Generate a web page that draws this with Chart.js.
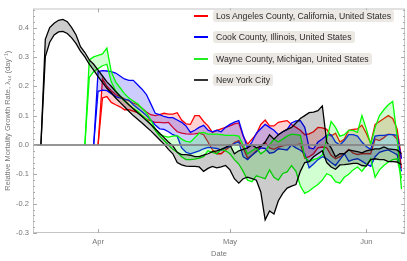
<!DOCTYPE html>
<html>
<head>
<meta charset="utf-8">
<script src="https://cdn.jsdelivr.net/npm/chart.js@4.4.0/dist/chart.umd.min.js"></script>
<style>
html, body { margin: 0; padding: 0; background: #fff; }
#wrap { position: relative; width: 407px; height: 261px; }
#legend { position: absolute; left: 194px; top: 10px; font-family: "Liberation Sans", Arial, sans-serif; font-size: 8.7px; color: #2a2a2a; }
.row { display: flex; align-items: center; height: 12px; margin-bottom: 9.3px; }
.sw { width: 14px; height: 2px; margin-right: 5px; }
.lab { background: #ece8e4; border-radius: 3px; padding: 0 3px; height: 12px; line-height: 12px; white-space: nowrap; }
</style>
</head>
<body>
<div id="wrap">
  <canvas id="growth" width="407" height="261"></canvas>
  <div id="legend"></div>
</div>
<script>
// days relative to April 1
const days = [-13, -12, -11, -10, -9, -8, -7, -6, -5, -4, -3, -2, -1,
  0, 1, 2, 3, 4, 5, 6, 7, 8, 9,
  10, 11, 12, 13, 14, 15, 16, 17, 18, 19,
  20, 21, 22, 23, 24, 25, 26, 27, 28, 29,
  30, 31, 32, 33, 34, 35, 36, 37, 38, 39,
  40, 41, 42, 43, 44, 45, 46, 47, 48, 49,
  50, 51, 52, 53, 54, 55, 56, 57, 58, 59,
  60, 61, 62, 63, 64, 65, 66, 67, 68, 69];

const tickDays = [0, 30, 61];
const tickLabels = ["Apr", "May", "Jun"];
const yTicks = [-0.3, -0.2, -0.1, 0, 0.1, 0.2, 0.3, 0.4];

const seriesNames = [
  "Los Angeles County, California, United States",
  "Cook County, Illinois, United States",
  "Wayne County, Michigan, United States",
  "New York City"
];

const laUpper = [null, null, null, null, null, null, null, null, null, null, null, null, null,
  0, 0.225, 0.2, 0.185, 0.172, 0.165, 0.157, 0.15, 0.143, 0.137,
  0.125, 0.112, 0.103, 0.1, 0.103, 0.108, 0.105, 0.105, 0.11, 0.085,
  0.072, 0.07, 0.1, 0.1, 0.08, 0.065, 0.043, 0.05, 0.055, 0.06,
  0.065, 0.072, 0.075, 0.03, 0.003, 0.02, 0.037, 0.07, 0.085, 0.065,
  0.065, 0.077, 0.08, 0.083, 0.07, 0.06, 0.05, 0.035, 0.038, 0.045,
  0.06, 0.058, 0.053, 0.03, 0.04, 0.01, 0.02, 0.05, 0.053, 0.055,
  0.067, 0.04, 0.005, 0.07, 0.08, 0.09, 0.1, 0.09, 0.055, -0.045];
const laLower = [null, null, null, null, null, null, null, null, null, null, null, null, null,
  0, 0.16, 0.165, 0.145, 0.137, 0.13, 0.12, 0.12, 0.115, 0.11,
  0.1, 0.088, 0.082, 0.077, 0.077, 0.075, 0.077, 0.06, 0.045, 0.04,
  0.038, 0.037, 0.038, 0.04, 0.035, 0.01, -0.017, -0.03, -0.03, -0.017,
  -0.005, 0.008, 0.015, -0.01, -0.045, -0.035, -0.02, -0.005, 0.008, -0.01,
  -0.015, -0.007, -0.003, 0, 0, 0, 0.003, -0.045, -0.04, -0.03,
  -0.01, -0.007, -0.01, -0.035, -0.047, -0.04, -0.03, -0.015, -0.028, -0.033,
  -0.03, -0.03, -0.03, 0.02, 0.015, 0.025, 0.037, 0.035, 0.02, -0.08];

const cookUpper = [null, null, null, null, null, null, null, null, null, null, null, null, 0,
  0.25, 0.253, 0.252, 0.25, 0.245, 0.235, 0.225, 0.22, 0.22, 0.205,
  0.19, 0.172, 0.14, 0.108, 0.103, 0.097, 0.093, 0.093, 0.085, 0.077,
  0.065, 0.043, 0.05, 0.06, 0.067, 0.05, 0.045, 0.05, 0.045, 0.06,
  0.07, 0.078, 0.083, 0.033, -0.01, 0.01, 0.04, 0.055, 0.07, 0.06,
  0.05, 0.035, 0.045, 0.053, 0.075, 0.082, 0.083, 0.06, -0.01, -0.013,
  0.01, 0.02, 0.033, 0.035, 0.01, 0, 0.015, 0.035, 0.035, 0.03,
  0.01, -0.005, -0.015, 0.03, 0.033, 0.033, 0.035, 0.035, 0.033, -0.047];
const cookLower = [null, null, null, null, null, null, null, null, null, null, null, null, 0,
  0.183, 0.187, 0.185, 0.175, 0.165, 0.16, 0.155, 0.153, 0.137, 0.125,
  0.113, 0.1, 0.085, 0.068, 0.055, 0.053, 0.045, 0.035, 0.03, -0.01,
  -0.025, -0.03, -0.025, -0.02, -0.013, -0.008, -0.01, -0.012, -0.017, -0.01,
  -0.005, 0.005, 0.01, -0.04, -0.05, -0.035, -0.023, -0.01, -0.012, -0.028,
  -0.025, -0.013, -0.015, -0.017, 0, -0.01, -0.018, -0.03, -0.078, -0.065,
  -0.05, -0.04, -0.047, -0.06, -0.07, -0.05, -0.03, -0.055, -0.05, -0.047,
  -0.055, -0.065, -0.073, -0.04, -0.025, -0.02, -0.017, -0.025, -0.033, -0.09];

const wayneUpper = [null, null, null, null, null, null, null, null, null, null, 0, 0.29, 0.3,
  0.305, 0.31, 0.33, 0.25, 0.215, 0.195, 0.175, 0.16, 0.15, 0.14,
  0.125, 0.11, 0.085, 0.055, 0.037, 0.03, 0.027, 0.03, 0.032, 0.02,
  0.012, 0.01, 0.025, 0.04, 0.043, 0.037, 0.037, 0.037, 0.035, 0.033,
  0.033, 0.033, 0.03, 0, -0.03, -0.02, -0.01, -0.03, -0.02, 0,
  0.02, 0.01, 0.02, 0.03, 0.037, 0.035, 0.033, -0.04, -0.057, -0.05,
  -0.045, -0.033, 0.02, 0.08, 0.06, 0.03, 0.035, 0.05, 0.05, 0.043,
  0.1, 0.055, 0.003, 0.06, 0.1, 0.12, 0.137, 0.148, 0.03, -0.15];
const wayneLower = [null, null, null, null, null, null, null, null, null, null, 0, 0.23, 0.25,
  0.26, 0.27, 0.275, 0.215, 0.185, 0.165, 0.15, 0.137, 0.125, 0.115,
  0.1, 0.088, 0.07, 0.05, 0.03, 0.015, 0, -0.015, -0.025, -0.04,
  -0.05, -0.05, -0.048, -0.045, -0.04, -0.02, -0.025, -0.03, -0.015, -0.02,
  -0.03, -0.05, -0.065, -0.09, -0.12, -0.125, -0.105, -0.11, -0.115, -0.085,
  -0.11, -0.12, -0.097, -0.092, -0.07, -0.09, -0.14, -0.165, -0.157, -0.145,
  -0.135, -0.12, -0.098, -0.105, -0.125, -0.13, -0.11, -0.1, -0.085, -0.075,
  -0.09, -0.07, -0.047, -0.11, -0.085, -0.07, -0.058, -0.05, -0.047, -0.113];

const nycUpper = [0, 0.36, 0.4, 0.415, 0.425, 0.428, 0.42, 0.4, 0.375, 0.335, 0.315, 0.29, 0.275,
  0.255, 0.235, 0.215, 0.2, 0.182, 0.167, 0.152, 0.137, 0.123, 0.11,
  0.097, 0.083, 0.07, 0.055, 0.04, 0.025, 0.01, -0.003, -0.025, -0.033,
  -0.033, -0.035, -0.04, -0.04, -0.035, -0.03, -0.023, -0.02, -0.015, -0.008,
  0, -0.03, -0.02, -0.015, -0.01, 0, -0.01, -0.005, 0.01, 0.035,
  0.02, 0.035, 0.045, 0.053, 0.06, 0.075, 0.09, 0.1, 0.11, 0.112,
  0.117, 0.133, 0.01, -0.01, -0.04, -0.03, -0.03, -0.017, -0.02, -0.023,
  -0.027, -0.02, -0.017, -0.013, -0.013, -0.007, -0.013, -0.015, -0.017, -0.03];
const nycLower = [0, 0.3, 0.35, 0.375, 0.385, 0.387, 0.38, 0.365, 0.345, 0.32, 0.3, 0.275, 0.255,
  0.233, 0.213, 0.193, 0.178, 0.16, 0.145, 0.13, 0.115, 0.1, 0.088,
  0.075, 0.061, 0.048, 0.033, 0.018, 0.003, -0.015, -0.03, -0.06, -0.068,
  -0.072, -0.073, -0.073, -0.075, -0.09, -0.08, -0.073, -0.078, -0.075, -0.07,
  -0.085, -0.115, -0.13, -0.115, -0.11, -0.115, -0.12, -0.16, -0.255, -0.225,
  -0.235, -0.19, -0.165, -0.147, -0.14, -0.135, -0.09, -0.06, -0.057, -0.04,
  -0.03, -0.02, -0.06, -0.075, -0.083, -0.068, -0.067, -0.065, -0.063, -0.063,
  -0.07, -0.072, -0.05, -0.047, -0.05, -0.05, -0.057, -0.057, -0.058, -0.067];

const lineColors = ["#ff0000", "#0000ff", "#00ff00", "#000000"];
const fillColors = ["rgba(255,0,0,0.18)", "rgba(0,0,255,0.2)", "rgba(0,255,0,0.18)", "rgba(0,0,0,0.2)"];
const swatchColors = ["#ff0000", "#0000ff", "#22ee22", "#333333"];

const bands = [[laUpper, laLower], [cookUpper, cookLower], [wayneUpper, wayneLower], [nycUpper, nycLower]];
const drawOrder = [3, 2, 1, 0];

const datasets = [];
bands.forEach(([up, lo], i) => {
  const common = {
    borderColor: lineColors[i],
    borderWidth: 1.3,
    pointRadius: 0,
    tension: 0,
    order: drawOrder[i]
  };
  datasets.push(Object.assign({
    label: seriesNames[i],
    data: days.map((d, k) => ({ x: d, y: up[k] })),
    backgroundColor: fillColors[i],
    fill: "+1"
  }, common));
  datasets.push(Object.assign({
    label: seriesNames[i] + " (lower)",
    data: days.map((d, k) => ({ x: d, y: lo[k] })),
    fill: false
  }, common));
});

// legend
const legend = document.getElementById("legend");
seriesNames.forEach((name, i) => {
  const row = document.createElement("div");
  row.className = "row";
  row.innerHTML = '<div class="sw" style="background:' + swatchColors[i] + '"></div><div class="lab">' + name + "</div>";
  legend.appendChild(row);
});

// frame, inward ticks and zero line
const framePlugin = {
  id: "frame",
  afterDatasetsDraw(chart) {
    const { ctx, chartArea: a, scales: { y } } = chart;
    const y0 = y.getPixelForValue(0);
    ctx.save();
    ctx.strokeStyle = "rgba(130,130,130,0.85)";
    ctx.lineWidth = 2;
    ctx.beginPath();
    ctx.moveTo(a.left, y0);
    ctx.lineTo(a.right, y0);
    ctx.stroke();
    ctx.restore();
  },
  afterDraw(chart) {
    const { ctx, chartArea: a, scales: { x, y } } = chart;
    ctx.save();
    ctx.strokeStyle = "#c4c4c4";
    ctx.lineWidth = 1;
    ctx.strokeRect(a.left + 0.5, a.top + 0.5, a.right - a.left - 1, a.bottom - a.top - 1);
    ctx.strokeStyle = "#aaa";
    ctx.beginPath();
    for (let k = -15; k <= 23; k++) {
      const py = Math.round(y.getPixelForValue(k * 0.02)) + 0.5;
      const len = k % 5 === 0 ? 4 : 2;
      ctx.moveTo(a.left, py); ctx.lineTo(a.left + len, py);
      ctx.moveTo(a.right, py); ctx.lineTo(a.right - len, py);
    }
    tickDays.forEach(d => {
      const px = Math.round(x.getPixelForValue(d)) + 0.5;
      ctx.moveTo(px, a.bottom); ctx.lineTo(px, a.bottom - 4);
      ctx.moveTo(px, a.top); ctx.lineTo(px, a.top + 4);
    });
    ctx.stroke();
    ctx.restore();
  }
};

Chart.defaults.font.family = '"Liberation Sans", Arial, sans-serif';

new Chart(document.getElementById("growth").getContext("2d"), {
  type: "line",
  data: { datasets: datasets },
  options: {
    responsive: false,
    animation: false,
    layout: { padding: { top: 3, right: 2, left: 0, bottom: 0 } },
    plugins: {
      legend: { display: false },
      tooltip: { enabled: false },
      filler: { propagate: false }
    },
    scales: {
      x: {
        type: "linear",
        min: -14.8,
        max: 69.8,
        afterBuildTicks: s => { s.ticks = tickDays.map(v => ({ value: v })); },
        afterFit: s => { s.height = 28; },
        grid: { display: false, drawTicks: false },
        border: { display: false },
        ticks: {
          autoSkip: false,
          maxRotation: 0,
          padding: 4,
          color: "#777",
          font: { size: 7.5 },
          callback: (v, i) => tickLabels[i]
        },
        title: {
          display: true,
          text: "Date",
          color: "#777",
          font: { size: 7.5 },
          padding: { top: 0, bottom: 2.5 }
        }
      },
      y: {
        min: -0.3,
        max: 0.465,
        afterBuildTicks: s => { s.ticks = yTicks.map(v => ({ value: v })); },
        afterFit: s => { s.width = 33; },
        grid: { display: false, drawTicks: false },
        border: { display: false },
        ticks: {
          padding: 4,
          color: "#777",
          font: { size: 7.5 },
          callback: v => v.toFixed(1)
        },
        title: {
          display: true,
          text: "Relative Mortality Growth Rate, λ₁₄ (day⁻¹)",
          color: "#777",
          font: { size: 7.5 },
          padding: { top: 3.5, bottom: 0 }
        }
      }
    }
  },
  plugins: [framePlugin]
});
</script>
</body>
</html>
